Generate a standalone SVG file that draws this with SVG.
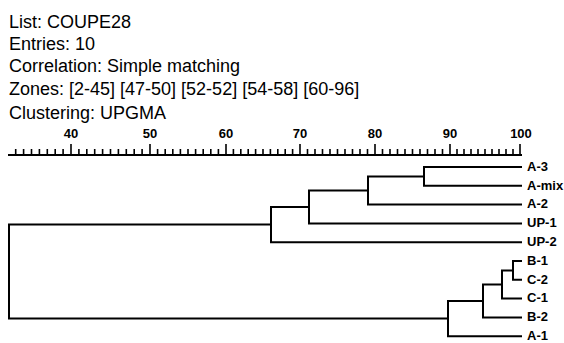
<svg xmlns="http://www.w3.org/2000/svg" width="564" height="343" viewBox="0 0 564 343">
<style>
.hdr{font-family:"Liberation Sans",Arial,sans-serif;font-size:18px;fill:#000}
.num{font-family:"Liberation Sans",Arial,sans-serif;font-size:13px;font-weight:bold;fill:#000;text-anchor:middle}
.lbl{font-family:"Liberation Sans",Arial,sans-serif;font-size:13px;font-weight:bold;fill:#000}
.ln{fill:none;stroke:#000;stroke-width:2;stroke-linecap:square;stroke-linejoin:miter}
.tk{fill:none;stroke:#000;stroke-width:1.6}
</style>
<rect width="564" height="343" fill="#fff"/>
<g id="header">
<text class="hdr" x="9" y="28">List: COUPE28</text>
<text class="hdr" x="9" y="50">Entries: 10</text>
<text class="hdr" x="9" y="72">Correlation: Simple matching</text>
<text class="hdr" x="9" y="95">Zones: [2-45] [47-50] [52-52] [54-58] [60-96]</text>
<text class="hdr" x="9" y="119">Clustering: UPGMA</text>
</g>
<g id="scale">
<text class="num" x="71" y="138">40</text>
<text class="num" x="150" y="138">50</text>
<text class="num" x="226" y="138">60</text>
<text class="num" x="300" y="138">70</text>
<text class="num" x="375" y="138">80</text>
<text class="num" x="450" y="138">90</text>
<text class="num" x="521" y="138">100</text>
<path class="ln" d="M9 155H521"/>
<path class="tk" d="M15.7 155V149M23.6 155V149M31.5 155V149M39.4 155V149M47.3 155V149M55.2 155V149M63.1 155V149
M78.9 155V149M86.8 155V149M94.7 155V149M102.6 155V149M110.5 155V149M118.4 155V149M126.3 155V149M134.2 155V149M142.1 155V149
M157.6 155V149M165.2 155V149M172.8 155V149M180.4 155V149M188 155V149M195.6 155V149M203.2 155V149M210.8 155V149M218.4 155V149
M233.4 155V149M240.8 155V149M248.2 155V149M255.6 155V149M263 155V149M270.4 155V149M277.8 155V149M285.2 155V149M292.6 155V149
M307.5 155V149M315 155V149M322.5 155V149M330 155V149M337.5 155V149M345 155V149M352.5 155V149M360 155V149M367.5 155V149
M382.5 155V149M390 155V149M397.5 155V149M405 155V149M412.5 155V149M420 155V149M427.5 155V149M435 155V149M442.5 155V149
M457 155V149M464 155V149M471 155V149M478 155V149M485 155V149M492 155V149M499 155V149M506 155V149M513 155V149"/>
<path class="tk" d="M71 155V144M150 155V144M226 155V144M300 155V144M375 155V144M450 155V144M520 155V144"/>
</g>
<g id="connectors">
<path class="ln" d="M521 167H424V185.8H521"/>
<path class="ln" d="M424 176.4H368V204.6H521"/>
<path class="ln" d="M368 190.5H309V223.4H521"/>
<path class="ln" d="M309 207H271V242.2H521"/>
<path class="ln" d="M271 224.6H9V318.6H448"/>
<path class="ln" d="M521 261H513V279.8H521"/>
<path class="ln" d="M513 270.4H502V298.6H521"/>
<path class="ln" d="M502 284.5H483V317.4H521"/>
<path class="ln" d="M483 301H448V336.2H521"/>
</g>
<g id="leaf-A-3"><text class="lbl" x="527" y="170.8">A-3</text></g>
<g id="leaf-A-mix"><text class="lbl" x="527" y="189.6">A-mix</text></g>
<g id="leaf-A-2"><text class="lbl" x="527" y="208.4">A-2</text></g>
<g id="leaf-UP-1"><text class="lbl" x="527" y="227.2">UP-1</text></g>
<g id="leaf-UP-2"><text class="lbl" x="527" y="246">UP-2</text></g>
<g id="leaf-B-1"><text class="lbl" x="527" y="264.8">B-1</text></g>
<g id="leaf-C-2"><text class="lbl" x="527" y="283.6">C-2</text></g>
<g id="leaf-C-1"><text class="lbl" x="527" y="302.4">C-1</text></g>
<g id="leaf-B-2"><text class="lbl" x="527" y="321.2">B-2</text></g>
<g id="leaf-A-1"><text class="lbl" x="527" y="340">A-1</text></g>
</svg>
